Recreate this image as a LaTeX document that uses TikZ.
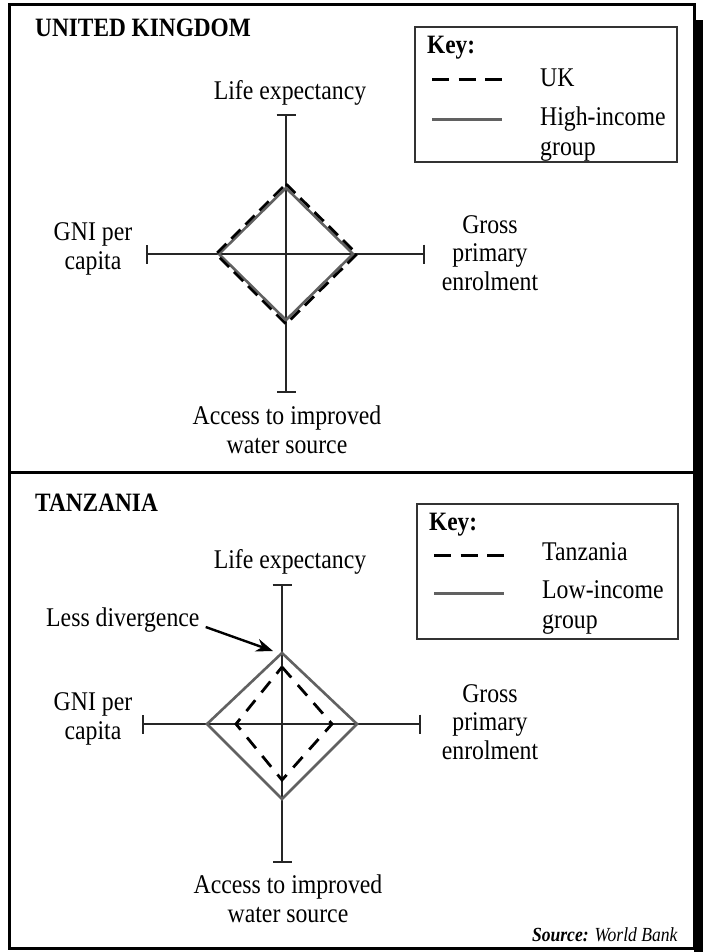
\documentclass[tikz,border=0pt]{standalone}
\usepackage{fontspec}
\setmainfont{Liberation Serif}[FakeStretch=0.88]
\usetikzlibrary{arrows.meta}
\begin{document}
\begin{tikzpicture}[x=1pt,y=-1pt,
  lbl/.style={font=\fontsize{27}{28.5}\selectfont, inner sep=0pt, align=center},
  ttl/.style={font=\fontsize{26.5}{28}\selectfont\bfseries, inner sep=0pt, anchor=base west},
  keytxt/.style={font=\fontsize{27}{30}\selectfont, inner sep=0pt, anchor=west, align=left},
  axisline/.style={line width=2.3pt, draw=black!85, {Bar[width=19pt]}-{Bar[width=19pt]}},
  hi/.style={line width=2.6pt, draw=black!62, line join=miter},
  dsh/.style={line width=2.8pt, draw=black, dash pattern=on 13pt off 7pt},
  keydash/.style={line width=3pt, draw=black, dash pattern=on 17pt off 9.5pt},
  keysolid/.style={line width=3pt, draw=black!62},
  keybox/.style={draw=black!80, line width=1.5pt},
  frame/.style={line width=3pt, draw=black},
  pointer/.style={line width=2.4pt, draw=black, -{Stealth[length=17pt,width=13pt]}},
]
\useasboundingbox (0,0) rectangle (703,952);
% frame with shadow
\fill[black] (694,20) rectangle (703,952);
\draw[frame, fill=white] (9,5) rectangle (694,948);
\coordinate (dL) at (9,472);
\coordinate (dR) at (694,472);
\draw[frame] (dL) -- (dR);

% ================= UNITED KINGDOM =================
\node[ttl] (ukttl) at (35,37) {UNITED KINGDOM};
\draw[keybox] (415,27) rectangle (677,162);
\node[ttl] (ukkey) at (427,54) {Key:};
\coordinate (ukd1) at (432,80); \coordinate (ukd2) at (502,80);
\draw[keydash] (ukd1) -- (ukd2);
\node[keytxt] (ukkuk) at (540,78) {UK};
\coordinate (uks1) at (432,120); \coordinate (uks2) at (502,120);
\draw[keysolid] (uks1) -- (uks2);
\node[keytxt] (ukkhi) at (540,134) {High-income\\group};

\begin{scope}[shift={(286,254)}]
  \coordinate (uT) at (0,-140); \coordinate (uB) at (0,139);
  \coordinate (uL) at (-140,0); \coordinate (uR) at (139,0);
  \draw[axisline] (uT) -- (uB);
  \draw[axisline] (uL) -- (uR);
  \draw[hi] (0,-66) -- (67,0) -- (0,66) -- (-67,0) -- cycle;
  \draw[dsh] (0,-70) -- (71,0) -- (0,70) -- (-70,0) -- cycle;
\end{scope}
\node[lbl] (ukle) at (290,93) {Life expectancy};
\node[lbl] (ukgni) at (93,249) {GNI per\\capita};
\node[lbl] (ukgpe) at (490,253) {Gross\\primary\\enrolment};
\node[lbl] (ukacc) at (287,430) {Access to improved\\water source};

% ================= TANZANIA =================
\node[ttl] (tzttl) at (35,511) {TANZANIA};
\draw[keybox] (417,504) rectangle (678,639);
\node[ttl] (tzkey) at (429,530) {Key:};
\coordinate (tzd1) at (434,555); \coordinate (tzd2) at (504,555);
\draw[keydash] (tzd1) -- (tzd2);
\node[keytxt] (tzktz) at (542,552) {Tanzania};
\coordinate (tzs1) at (434,593); \coordinate (tzs2) at (504,593);
\draw[keysolid] (tzs1) -- (tzs2);
\node[keytxt] (tzklo) at (542,607) {Low-income\\group};

\begin{scope}[shift={(282,724)}]
  \coordinate (tT) at (0,-140); \coordinate (tB) at (0,139);
  \coordinate (tL) at (-140,0); \coordinate (tR) at (139,0);
  \draw[axisline] (tT) -- (tB);
  \draw[axisline] (tL) -- (tR);
  \draw[hi] (0,-71) -- (75,0) -- (0,75) -- (-75,0) -- cycle;
  \draw[dsh, dash pattern=on 14pt off 10pt] (0,-57) -- (50,0) -- (0,56) -- (-46,0) -- cycle;
  \coordinate (tip) at (-9,-73);
\end{scope}
\node[lbl] (tzle) at (290,562) {Life expectancy};
\node[lbl, anchor=west] (less) at (46,620) {Less divergence};
\draw[pointer] ([xshift=6pt,yshift=-7pt]less.east) -- (tip);
\node[lbl] (tzgni) at (93,719) {GNI per\\capita};
\node[lbl] (tzgpe) at (490,722) {Gross\\primary\\enrolment};
\node[lbl] (tzacc) at (288,899) {Access to improved\\water source};

\node[inner sep=0pt, anchor=base east, font=\fontsize{20}{22}\selectfont] (src) at (678,941) {\textbf{\textit{Source:}} \textit{World Bank}};
\end{tikzpicture}
\end{document}
